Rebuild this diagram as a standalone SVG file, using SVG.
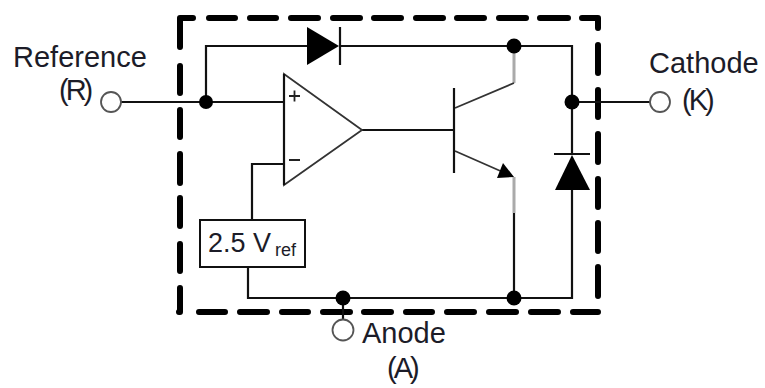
<svg xmlns="http://www.w3.org/2000/svg" width="765" height="388" viewBox="0 0 765 388">
<defs>
<style>
text{font-family:"Liberation Sans",Arial,sans-serif;fill:#1c1c28;font-size:29px}
.p{letter-spacing:-3px}
.w{fill:none;stroke:#111;stroke-width:2.2}
.g{fill:none;stroke:#aaa;stroke-width:3}
.t{fill:none;stroke:#333;stroke-width:1.8}
.d{fill:none;stroke:#000;stroke-width:6;stroke-linecap:round;stroke-linejoin:round}
.j{fill:#000}
.o{fill:#fff;stroke:#555;stroke-width:1.8}
.s{fill:#000}
</style>
</defs>
<rect width="765" height="388" fill="#fff"/>
<g id="boundary">
<path class="d" d="M180 47V18H193M209 18H235M250 18H276M291 18H318M333 18H360M374 18H401M416 18H443M457 18H484M499 18H526M540 18H568M582 18H598V28M598 45V73M598 90V117M598 134V162M598 179V207M598 223V251M598 267V296M180 66V93M180 110V137M180 154V183M180 198V226M180 244V271M180 288V312H179M199 312H225M240 312H267M282 312H308M323 312H350M364 312H391M406 312H432M447 312H474M489 312H516M531 312H558M573 312H598"/>
</g>
<g id="connectors">
<path class="w" d="M121 102H284M206 102V46H307M340 46H572V154M572 102H650M572 190V298H248V267M252 220V164H284M362 130H454M343 298V319M514 213V298"/>
<path class="g" d="M514 46V83M514 177V213"/>
<path class="t" d="M514 83L455 108M455 151L505 173"/>
</g>
<g id="opamp">
<path d="M284 74V185L362 130Z" fill="#fff" stroke="#333" stroke-width="1.8"/>
<path d="M284 74V185" class="w"/>
<path d="M289 96H300M294.500 90.500V101.500M289 160H300" fill="none" stroke="#222" stroke-width="1.800"/>
</g>
<g id="diode-top">
<path class="s" d="M307 27V65L339 46Z"/>
<path d="M340 27V65" class="w"/>
</g>
<g id="transistor">
<path d="M454 88V173" class="w"/>
<path class="s" d="M514 177L497 178L503 163Z"/>
</g>
<g id="zener">
<path class="s" d="M572 155L555 190H590Z"/>
<path d="M554 154H590" class="w"/>
</g>
<g id="vref">
<rect x="200" y="220" width="105" height="47" fill="#fff" stroke="#111" stroke-width="2"/>
<text x="208" y="252" style="font-size:27px">2.5 V</text>
<text x="275" y="256" style="font-size:18px">ref</text>
</g>
<g id="junctions">
<circle class="j" cx="206" cy="102" r="7"/>
<circle class="j" cx="514" cy="46" r="7.500"/>
<circle class="j" cx="572" cy="102" r="7.500"/>
<circle class="j" cx="343" cy="298" r="7.500"/>
<circle class="j" cx="514" cy="298" r="7.500"/>
</g>
<g id="reference">
<circle class="o" cx="111" cy="102" r="10"/>
<text x="13" y="67">Reference</text>
<text x="59" y="100" class="p">(R)</text>
</g>
<g id="cathode">
<circle class="o" cx="660" cy="102" r="10"/>
<text x="649" y="73">Cathode</text>
<text x="682" y="110" class="p">(K)</text>
</g>
<g id="anode">
<circle class="o" cx="343" cy="330" r="10.500"/>
<text x="362" y="343">Anode</text>
<text x="387" y="378" class="p">(A)</text>
</g>
</svg>
